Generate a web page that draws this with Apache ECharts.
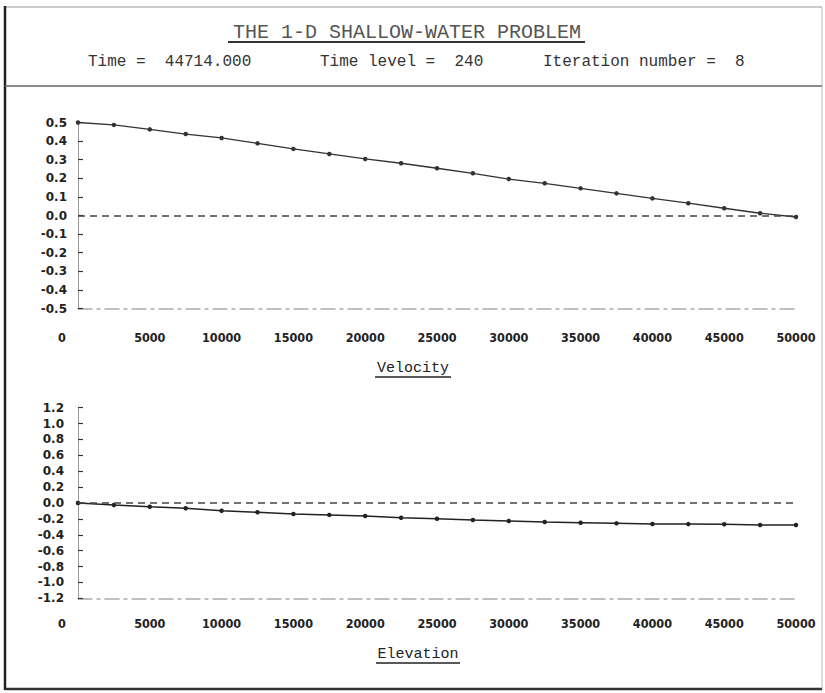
<!DOCTYPE html>
<html>
<head>
<meta charset="utf-8">
<script src="https://cdn.jsdelivr.net/npm/echarts@6/dist/echarts.min.js"></script>
<style>
  html, body { margin: 0; padding: 0; background: #ffffff; }
  #chart { width: 825px; height: 693px; }
</style>
</head>
<body>
<div id="chart"></div>
<script>
// Grid positions along the channel (m)
const distance = [0, 2500, 5000, 7500, 10000, 12500, 15000, 17500, 20000, 22500, 25000,
                  27500, 30000, 32500, 35000, 37500, 40000, 42500, 45000, 47500, 50000];

// Velocity at each grid point
const velocity = [0.500, 0.487, 0.463, 0.438, 0.417, 0.388, 0.358, 0.331, 0.304, 0.281, 0.254,
                  0.227, 0.196, 0.173, 0.146, 0.119, 0.092, 0.066, 0.039, 0.012, -0.008];

// Surface elevation at each grid point
const elevation = [0.000, -0.025, -0.047, -0.067, -0.097, -0.117, -0.139, -0.150, -0.164, -0.185, -0.198,
                   -0.214, -0.227, -0.240, -0.248, -0.256, -0.264, -0.266, -0.268, -0.277, -0.277];

// Header texts
const mainTitle = 'THE 1-D SHALLOW-WATER PROBLEM';
const infoTexts = ['Time =  44714.000', 'Time level =  240', 'Iteration number =  8'];
const panelTitles = ['Velocity', 'Elevation'];

// Axis ranges
const xRange = [0, 50000, 5000];
const velRange = [-0.5, 0.5, 0.1];
const elevRange = [-1.2, 1.2, 0.2];

const xLabelFont = { fontFamily: 'DejaVu Sans Condensed, DejaVu Sans, sans-serif', fontSize: 12.5, fontWeight: 'bold', color: '#222' };
const yLabelFont = { fontFamily: 'DejaVu Sans, sans-serif', fontSize: 12, fontWeight: 'bold', color: '#222' };

function xAxisFor(idx, margin) {
  return {
    type: 'value', gridIndex: idx,
    min: xRange[0], max: xRange[1], interval: xRange[2],
    axisLine: { show: true, onZero: false, lineStyle: { color: '#aaa', width: 1.5, type: [14, 5, 3, 5] } },
    axisTick: { show: false },
    splitLine: { show: false },
    axisLabel: Object.assign({}, xLabelFont, {
      margin: margin,
      formatter: v => v === 0 ? '{z|0}' : String(v),
      rich: { z: Object.assign({}, xLabelFont, { padding: [0, 32, 0, 0] }) }
    })
  };
}

function yAxisFor(idx, range, margin) {
  return {
    type: 'value', gridIndex: idx,
    min: range[0], max: range[1], interval: range[2],
    axisLine: { show: true, lineStyle: { color: '#999', width: 1 } },
    axisTick: { show: true, inside: true, length: 5, lineStyle: { color: '#333', width: 1.2 } },
    splitLine: { show: false },
    axisLabel: Object.assign({}, yLabelFont, {
      margin: margin,
      formatter: v => v.toFixed(1)
    })
  };
}

function zeroLine() {
  return {
    silent: true, symbol: 'none',
    label: { show: false },
    lineStyle: { type: [7, 5], color: '#444', width: 1.5 },
    data: [{ yAxis: 0 }]
  };
}

const chart = echarts.init(document.getElementById('chart'), null, { renderer: 'svg' });

chart.setOption({
  backgroundColor: '#ffffff',
  animation: false,
  grid: [
    { left: 78, right: 29, top: 122.5, height: 186 },
    { left: 78, right: 29, top: 407.7, height: 190.6 }
  ],
  xAxis: [xAxisFor(0, 22), xAxisFor(1, 19)],
  yAxis: [yAxisFor(0, velRange, 11), yAxisFor(1, elevRange, 14)],
  series: [
    {
      name: panelTitles[0], type: 'line', xAxisIndex: 0, yAxisIndex: 0,
      data: distance.map((d, i) => [d, velocity[i]]),
      symbol: 'circle', symbolSize: 4.5,
      lineStyle: { color: '#333', width: 1.3 },
      itemStyle: { color: '#333' },
      markLine: zeroLine()
    },
    {
      name: panelTitles[1], type: 'line', xAxisIndex: 1, yAxisIndex: 1,
      data: distance.map((d, i) => [d, elevation[i]]),
      symbol: 'circle', symbolSize: 4.5,
      lineStyle: { color: '#222', width: 1.5 },
      itemStyle: { color: '#222' },
      markLine: zeroLine()
    }
  ],
  graphic: [
    // outer frame
    { type: 'line', shape: { x1: 5, y1: 7, x2: 822, y2: 7 }, style: { stroke: '#999', lineWidth: 1 } },
    { type: 'line', shape: { x1: 5, y1: 6, x2: 5, y2: 690 }, style: { stroke: '#222', lineWidth: 2.5 } },
    { type: 'line', shape: { x1: 822, y1: 7, x2: 822, y2: 690 }, style: { stroke: '#bbb', lineWidth: 1 } },
    { type: 'line', shape: { x1: 5, y1: 689, x2: 822, y2: 689 }, style: { stroke: '#333', lineWidth: 2.5 } },
    // header separator
    { type: 'line', shape: { x1: 5, y1: 86, x2: 822, y2: 86 }, style: { stroke: '#666', lineWidth: 1.5 } },
    // header title
    { type: 'text', x: 407, y: 32, style: { text: mainTitle, font: '20px Liberation Mono, DejaVu Sans Mono, monospace', fill: '#555', textAlign: 'center', textVerticalAlign: 'middle' } },
    { type: 'line', shape: { x1: 228, y1: 42, x2: 585, y2: 42 }, style: { stroke: '#333', lineWidth: 2 } },
    // run information
    { type: 'text', x: 88, y: 62, style: { text: infoTexts[0], font: '16px Liberation Mono, DejaVu Sans Mono, monospace', fill: '#333', textAlign: 'left', textVerticalAlign: 'middle' } },
    { type: 'text', x: 320, y: 62, style: { text: infoTexts[1], font: '16px Liberation Mono, DejaVu Sans Mono, monospace', fill: '#333', textAlign: 'left', textVerticalAlign: 'middle' } },
    { type: 'text', x: 543, y: 62, style: { text: infoTexts[2], font: '16px Liberation Mono, DejaVu Sans Mono, monospace', fill: '#333', textAlign: 'left', textVerticalAlign: 'middle' } },
    // panel titles
    { type: 'text', x: 413, y: 368, style: { text: panelTitles[0], font: '15px Liberation Mono, DejaVu Sans Mono, monospace', fill: '#222', textAlign: 'center', textVerticalAlign: 'middle' } },
    { type: 'line', shape: { x1: 375, y1: 377, x2: 451, y2: 377 }, style: { stroke: '#222', lineWidth: 1.5 } },
    { type: 'text', x: 418, y: 654, style: { text: panelTitles[1], font: '15px Liberation Mono, DejaVu Sans Mono, monospace', fill: '#222', textAlign: 'center', textVerticalAlign: 'middle' } },
    { type: 'line', shape: { x1: 376, y1: 663, x2: 460, y2: 663 }, style: { stroke: '#222', lineWidth: 1.5 } }
  ]
});
</script>
</body>
</html>
